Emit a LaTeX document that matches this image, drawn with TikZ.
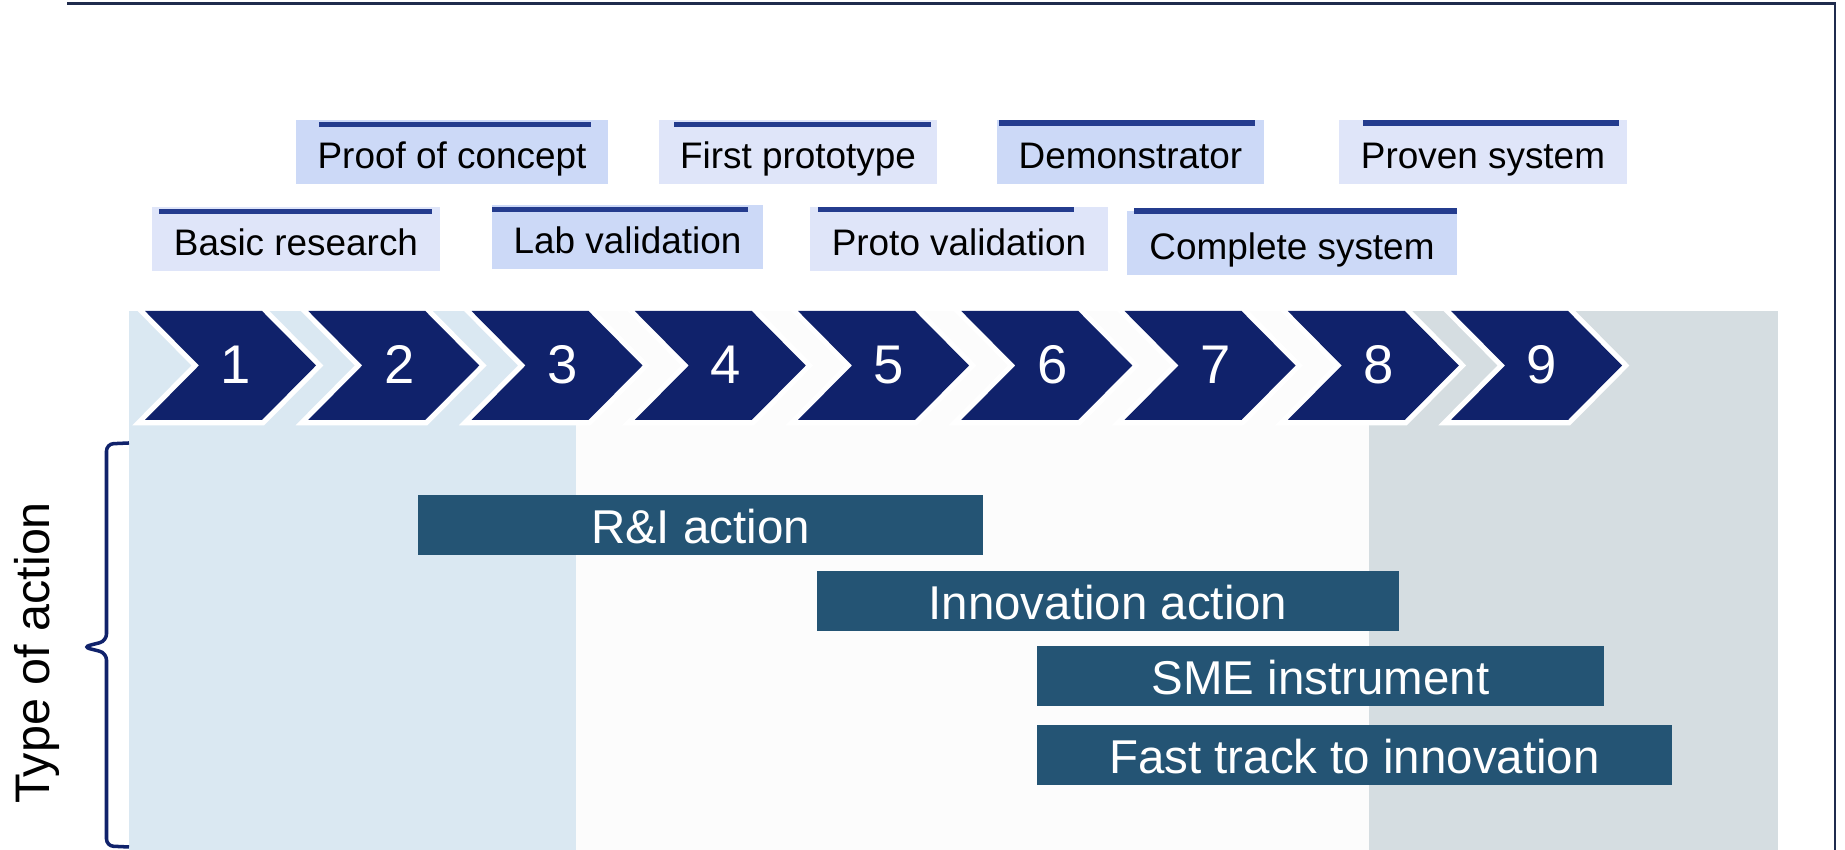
\documentclass[tikz,border=0pt]{standalone}
\usepackage{fontspec}
\setmainfont{Liberation Sans}
\definecolor{navy}{RGB}{16,34,107}
\definecolor{bandblue}{RGB}{218,232,242}
\definecolor{bandwhite}{RGB}{252,252,252}
\definecolor{bandgrey}{RGB}{213,221,225}
\definecolor{actionblue}{RGB}{36,84,116}
\definecolor{phasedark}{RGB}{204,217,247}
\definecolor{phaselight}{RGB}{223,229,249}
\definecolor{phasebar}{RGB}{36,60,142}
\definecolor{framecol}{RGB}{31,43,77}
\begin{document}
\begin{tikzpicture}[
    phase/.style={inner sep=0pt, minimum height=0.64cm, text height=0.33cm, text depth=0pt,
      font=\fontsize{10.5}{12}\selectfont},
    action/.style={fill=actionblue, text=white, inner sep=0pt, minimum height=0.6cm,
      text height=0.38cm, text depth=0pt, font=\fontsize{13.5}{16}\selectfont},
    stagenum/.style={text=white, anchor=base, font=\fontsize{15.5}{18}\selectfont}
  ]
  \useasboundingbox (0,0) rectangle (18.45,8.5);
  % frame
  \draw[framecol, line width=0.7pt] (0.67,8.465) -- (18.35,8.465) -- (18.35,0);

  % background bands
  \fill[bandblue] (1.29,0) rectangle (5.76,5.39);
  \fill[bandwhite] (5.76,0) rectangle (13.69,5.39);
  \fill[bandgrey] (13.69,0) rectangle (17.78,5.39);

  % stages
  \foreach \i in {1,...,9} {
    \pgfmathsetmacro\xo{1.45+(\i-1)*1.6325}
    \draw[white, line width=3pt, line join=miter] (\xo,5.39) -- ++(1.17,0) -- ++(0.54,-0.545)
      -- ++(-0.54,-0.545) -- ++(-1.17,0) -- ++(0.54,0.545) -- cycle;
    \fill[navy] (\xo,5.39) -- ++(1.17,0) -- ++(0.54,-0.545)
      -- ++(-0.54,-0.545) -- ++(-1.17,0) -- ++(0.54,0.545) -- cycle;
    \node[stagenum] (n\i) at (\xo+0.91,4.66) {\i};
  }

  % phase labels
  \node[phase, fill=phasedark, minimum width=3.12cm] (proof) at (4.52,6.98) {Proof of concept};
  \node[phase, fill=phaselight, minimum width=2.78cm] (first) at (7.98,6.98) {First prototype};
  \node[phase, fill=phasedark, minimum width=2.67cm] (demo) at (11.305,6.98) {Demonstrator};
  \node[phase, fill=phaselight, minimum width=2.88cm] (proven) at (14.83,6.98) {Proven system};
  \node[phase, fill=phaselight, minimum width=2.88cm] (basic) at (2.96,6.105) {Basic research};
  \node[phase, fill=phasedark, minimum width=2.71cm] (lab) at (6.275,6.125) {Lab validation};
  \node[phase, fill=phaselight, minimum width=2.98cm] (proto) at (9.59,6.105) {Proto validation};
  \node[phase, fill=phasedark, minimum width=3.30cm] (complete) at (12.92,6.065) {Complete system};
  \fill[phasebar] (3.19,7.23) rectangle (5.91,7.28);
  \fill[phasebar] (6.74,7.23) rectangle (9.31,7.28);
  \fill[phasebar] (9.99,7.24) rectangle (12.55,7.30);
  \fill[phasebar] (13.63,7.24) rectangle (16.19,7.30);
  \fill[phasebar] (1.59,6.36) rectangle (4.32,6.41);
  \fill[phasebar] (4.92,6.38) rectangle (7.48,6.43);
  \fill[phasebar] (8.18,6.38) rectangle (10.74,6.43);
  \fill[phasebar] (11.34,6.36) rectangle (14.57,6.42);

  % types of action
  \node[action, minimum width=5.65cm] (ri) at (7.005,3.25) {R\&I action};
  \node[action, minimum width=5.82cm] (innov) at (11.08,2.49) {Innovation action};
  \node[action, minimum width=5.67cm] (sme) at (13.205,1.74) {SME instrument};
  \node[action, minimum width=6.35cm] (fast) at (13.545,0.95) {Fast track to innovation};

  \draw[navy, line width=1pt, rounded corners=2pt] (1.29,4.07) -- (1.065,4.06) -- (1.065,2.09)
    -- (0.83,2.03) -- (1.065,1.97) -- (1.065,0.04) -- (1.29,0.03);
  \node[rotate=90, anchor=base, font=\fontsize{13.8}{16}\selectfont] (type) at (0.49,1.97) {Type of action};
\end{tikzpicture}
\end{document}
